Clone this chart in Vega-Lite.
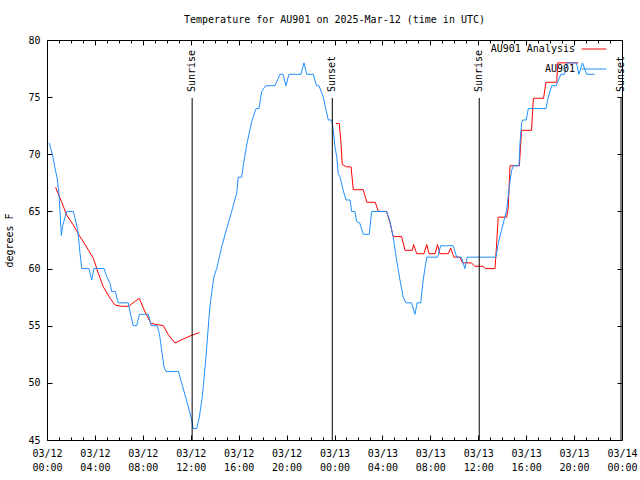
{
  "$schema": "https://vega.github.io/schema/vega-lite/v6.json",
  "width": 575,
  "height": 400,
  "autosize": {"type": "none"},
  "padding": {"left": 47, "top": 40, "right": 18, "bottom": 40},
  "background": "white",
  "title": {"text": "Temperature for AU901 on 2025-Mar-12 (time in UTC)", "font": "DejaVu Sans Mono", "fontSize": 10, "fontWeight": "normal", "offset": 10, "anchor": "middle", "color": "black"},
  "datasets": {
    "obs": [
      {"t": "2025-03-12T00:43:00Z", "v": 67.1, "s": "AU901 Analysis", "g": 1},
      {"t": "2025-03-12T01:13:00Z", "v": 65.85, "s": "AU901 Analysis", "g": 1},
      {"t": "2025-03-12T01:38:00Z", "v": 64.7, "s": "AU901 Analysis", "g": 1},
      {"t": "2025-03-12T02:12:00Z", "v": 63.8, "s": "AU901 Analysis", "g": 1},
      {"t": "2025-03-12T02:45:00Z", "v": 62.8, "s": "AU901 Analysis", "g": 1},
      {"t": "2025-03-12T03:18:00Z", "v": 61.9, "s": "AU901 Analysis", "g": 1},
      {"t": "2025-03-12T03:52:00Z", "v": 60.9, "s": "AU901 Analysis", "g": 1},
      {"t": "2025-03-12T04:17:00Z", "v": 59.6, "s": "AU901 Analysis", "g": 1},
      {"t": "2025-03-12T04:42:00Z", "v": 58.4, "s": "AU901 Analysis", "g": 1},
      {"t": "2025-03-12T05:16:00Z", "v": 57.4, "s": "AU901 Analysis", "g": 1},
      {"t": "2025-03-12T05:41:00Z", "v": 56.8, "s": "AU901 Analysis", "g": 1},
      {"t": "2025-03-12T06:14:00Z", "v": 56.7, "s": "AU901 Analysis", "g": 1},
      {"t": "2025-03-12T06:48:00Z", "v": 56.7, "s": "AU901 Analysis", "g": 1},
      {"t": "2025-03-12T07:42:00Z", "v": 57.4, "s": "AU901 Analysis", "g": 1},
      {"t": "2025-03-12T08:11:00Z", "v": 56.2, "s": "AU901 Analysis", "g": 1},
      {"t": "2025-03-12T08:41:00Z", "v": 55.2, "s": "AU901 Analysis", "g": 1},
      {"t": "2025-03-12T09:12:00Z", "v": 55.1, "s": "AU901 Analysis", "g": 1},
      {"t": "2025-03-12T09:43:00Z", "v": 55.0, "s": "AU901 Analysis", "g": 1},
      {"t": "2025-03-12T10:08:00Z", "v": 54.2, "s": "AU901 Analysis", "g": 1},
      {"t": "2025-03-12T10:41:00Z", "v": 53.5, "s": "AU901 Analysis", "g": 1},
      {"t": "2025-03-12T11:56:00Z", "v": 54.1, "s": "AU901 Analysis", "g": 1},
      {"t": "2025-03-12T12:43:00Z", "v": 54.4, "s": "AU901 Analysis", "g": 1},
      {"t": "2025-03-13T00:07:00Z", "v": 72.7, "s": "AU901 Analysis", "g": 2},
      {"t": "2025-03-13T00:24:00Z", "v": 72.7, "s": "AU901 Analysis", "g": 2},
      {"t": "2025-03-13T00:32:00Z", "v": 71.1, "s": "AU901 Analysis", "g": 2},
      {"t": "2025-03-13T00:39:00Z", "v": 69.1, "s": "AU901 Analysis", "g": 2},
      {"t": "2025-03-13T01:00:00Z", "v": 68.9, "s": "AU901 Analysis", "g": 2},
      {"t": "2025-03-13T01:23:00Z", "v": 68.9, "s": "AU901 Analysis", "g": 2},
      {"t": "2025-03-13T01:34:00Z", "v": 66.9, "s": "AU901 Analysis", "g": 2},
      {"t": "2025-03-13T02:24:00Z", "v": 66.9, "s": "AU901 Analysis", "g": 2},
      {"t": "2025-03-13T02:42:00Z", "v": 65.8, "s": "AU901 Analysis", "g": 2},
      {"t": "2025-03-13T03:24:00Z", "v": 65.8, "s": "AU901 Analysis", "g": 2},
      {"t": "2025-03-13T03:40:00Z", "v": 65.0, "s": "AU901 Analysis", "g": 2},
      {"t": "2025-03-13T04:21:00Z", "v": 65.0, "s": "AU901 Analysis", "g": 2},
      {"t": "2025-03-13T04:38:00Z", "v": 64.0, "s": "AU901 Analysis", "g": 2},
      {"t": "2025-03-13T04:54:00Z", "v": 62.8, "s": "AU901 Analysis", "g": 2},
      {"t": "2025-03-13T05:36:00Z", "v": 62.8, "s": "AU901 Analysis", "g": 2},
      {"t": "2025-03-13T05:53:00Z", "v": 61.6, "s": "AU901 Analysis", "g": 2},
      {"t": "2025-03-13T06:30:00Z", "v": 61.6, "s": "AU901 Analysis", "g": 2},
      {"t": "2025-03-13T06:36:00Z", "v": 62.1, "s": "AU901 Analysis", "g": 2},
      {"t": "2025-03-13T06:52:00Z", "v": 61.3, "s": "AU901 Analysis", "g": 2},
      {"t": "2025-03-13T07:28:00Z", "v": 61.3, "s": "AU901 Analysis", "g": 2},
      {"t": "2025-03-13T07:42:00Z", "v": 62.1, "s": "AU901 Analysis", "g": 2},
      {"t": "2025-03-13T07:54:00Z", "v": 61.3, "s": "AU901 Analysis", "g": 2},
      {"t": "2025-03-13T08:24:00Z", "v": 61.3, "s": "AU901 Analysis", "g": 2},
      {"t": "2025-03-13T08:36:00Z", "v": 62.1, "s": "AU901 Analysis", "g": 2},
      {"t": "2025-03-13T08:48:00Z", "v": 61.3, "s": "AU901 Analysis", "g": 2},
      {"t": "2025-03-13T09:30:00Z", "v": 61.3, "s": "AU901 Analysis", "g": 2},
      {"t": "2025-03-13T09:42:00Z", "v": 61.8, "s": "AU901 Analysis", "g": 2},
      {"t": "2025-03-13T09:58:00Z", "v": 61.0, "s": "AU901 Analysis", "g": 2},
      {"t": "2025-03-13T10:28:00Z", "v": 61.0, "s": "AU901 Analysis", "g": 2},
      {"t": "2025-03-13T10:42:00Z", "v": 60.5, "s": "AU901 Analysis", "g": 2},
      {"t": "2025-03-13T11:26:00Z", "v": 60.5, "s": "AU901 Analysis", "g": 2},
      {"t": "2025-03-13T11:42:00Z", "v": 60.2, "s": "AU901 Analysis", "g": 2},
      {"t": "2025-03-13T12:24:00Z", "v": 60.2, "s": "AU901 Analysis", "g": 2},
      {"t": "2025-03-13T12:36:00Z", "v": 60.0, "s": "AU901 Analysis", "g": 2},
      {"t": "2025-03-13T13:24:00Z", "v": 60.0, "s": "AU901 Analysis", "g": 2},
      {"t": "2025-03-13T13:30:00Z", "v": 61.6, "s": "AU901 Analysis", "g": 2},
      {"t": "2025-03-13T13:40:00Z", "v": 64.5, "s": "AU901 Analysis", "g": 2},
      {"t": "2025-03-13T14:22:00Z", "v": 64.5, "s": "AU901 Analysis", "g": 2},
      {"t": "2025-03-13T14:30:00Z", "v": 65.3, "s": "AU901 Analysis", "g": 2},
      {"t": "2025-03-13T14:39:00Z", "v": 69.0, "s": "AU901 Analysis", "g": 2},
      {"t": "2025-03-13T15:26:00Z", "v": 69.0, "s": "AU901 Analysis", "g": 2},
      {"t": "2025-03-13T15:37:00Z", "v": 72.1, "s": "AU901 Analysis", "g": 2},
      {"t": "2025-03-13T16:27:00Z", "v": 72.1, "s": "AU901 Analysis", "g": 2},
      {"t": "2025-03-13T16:36:00Z", "v": 74.9, "s": "AU901 Analysis", "g": 2},
      {"t": "2025-03-13T17:27:00Z", "v": 74.9, "s": "AU901 Analysis", "g": 2},
      {"t": "2025-03-13T17:39:00Z", "v": 76.3, "s": "AU901 Analysis", "g": 2},
      {"t": "2025-03-13T18:33:00Z", "v": 76.3, "s": "AU901 Analysis", "g": 2},
      {"t": "2025-03-13T18:38:00Z", "v": 78.0, "s": "AU901 Analysis", "g": 2},
      {"t": "2025-03-13T20:21:00Z", "v": 78.0, "s": "AU901 Analysis", "g": 2},
      {"t": "2025-03-12T00:11:00Z", "v": 71.0, "s": "AU901", "g": 3},
      {"t": "2025-03-12T00:27:00Z", "v": 70.0, "s": "AU901", "g": 3},
      {"t": "2025-03-12T00:40:00Z", "v": 68.8, "s": "AU901", "g": 3},
      {"t": "2025-03-12T00:52:00Z", "v": 67.8, "s": "AU901", "g": 3},
      {"t": "2025-03-12T01:00:00Z", "v": 66.5, "s": "AU901", "g": 3},
      {"t": "2025-03-12T01:05:00Z", "v": 65.0, "s": "AU901", "g": 3},
      {"t": "2025-03-12T01:12:00Z", "v": 62.9, "s": "AU901", "g": 3},
      {"t": "2025-03-12T01:18:00Z", "v": 63.7, "s": "AU901", "g": 3},
      {"t": "2025-03-12T01:38:00Z", "v": 65.0, "s": "AU901", "g": 3},
      {"t": "2025-03-12T02:12:00Z", "v": 65.0, "s": "AU901", "g": 3},
      {"t": "2025-03-12T02:34:00Z", "v": 63.4, "s": "AU901", "g": 3},
      {"t": "2025-03-12T02:45:00Z", "v": 61.4, "s": "AU901", "g": 3},
      {"t": "2025-03-12T02:54:00Z", "v": 60.0, "s": "AU901", "g": 3},
      {"t": "2025-03-12T03:30:00Z", "v": 60.0, "s": "AU901", "g": 3},
      {"t": "2025-03-12T03:44:00Z", "v": 59.0, "s": "AU901", "g": 3},
      {"t": "2025-03-12T03:55:00Z", "v": 60.0, "s": "AU901", "g": 3},
      {"t": "2025-03-12T04:46:00Z", "v": 60.0, "s": "AU901", "g": 3},
      {"t": "2025-03-12T04:59:00Z", "v": 59.3, "s": "AU901", "g": 3},
      {"t": "2025-03-12T05:16:00Z", "v": 58.7, "s": "AU901", "g": 3},
      {"t": "2025-03-12T05:24:00Z", "v": 58.0, "s": "AU901", "g": 3},
      {"t": "2025-03-12T05:42:00Z", "v": 58.0, "s": "AU901", "g": 3},
      {"t": "2025-03-12T05:57:00Z", "v": 57.0, "s": "AU901", "g": 3},
      {"t": "2025-03-12T06:47:00Z", "v": 57.0, "s": "AU901", "g": 3},
      {"t": "2025-03-12T06:56:00Z", "v": 56.2, "s": "AU901", "g": 3},
      {"t": "2025-03-12T07:12:00Z", "v": 55.0, "s": "AU901", "g": 3},
      {"t": "2025-03-12T07:29:00Z", "v": 55.0, "s": "AU901", "g": 3},
      {"t": "2025-03-12T07:43:00Z", "v": 56.0, "s": "AU901", "g": 3},
      {"t": "2025-03-12T08:28:00Z", "v": 56.0, "s": "AU901", "g": 3},
      {"t": "2025-03-12T08:41:00Z", "v": 55.0, "s": "AU901", "g": 3},
      {"t": "2025-03-12T09:12:00Z", "v": 55.0, "s": "AU901", "g": 3},
      {"t": "2025-03-12T09:23:00Z", "v": 54.3, "s": "AU901", "g": 3},
      {"t": "2025-03-12T09:34:00Z", "v": 52.9, "s": "AU901", "g": 3},
      {"t": "2025-03-12T09:46:00Z", "v": 51.4, "s": "AU901", "g": 3},
      {"t": "2025-03-12T09:56:00Z", "v": 51.0, "s": "AU901", "g": 3},
      {"t": "2025-03-12T10:58:00Z", "v": 51.0, "s": "AU901", "g": 3},
      {"t": "2025-03-12T11:14:00Z", "v": 50.0, "s": "AU901", "g": 3},
      {"t": "2025-03-12T11:40:00Z", "v": 48.4, "s": "AU901", "g": 3},
      {"t": "2025-03-12T12:05:00Z", "v": 46.75, "s": "AU901", "g": 3},
      {"t": "2025-03-12T12:12:00Z", "v": 46.0, "s": "AU901", "g": 3},
      {"t": "2025-03-12T12:30:00Z", "v": 46.0, "s": "AU901", "g": 3},
      {"t": "2025-03-12T12:42:00Z", "v": 46.9, "s": "AU901", "g": 3},
      {"t": "2025-03-12T12:58:00Z", "v": 48.8, "s": "AU901", "g": 3},
      {"t": "2025-03-12T13:15:00Z", "v": 52.0, "s": "AU901", "g": 3},
      {"t": "2025-03-12T13:36:00Z", "v": 56.7, "s": "AU901", "g": 3},
      {"t": "2025-03-12T13:56:00Z", "v": 59.3, "s": "AU901", "g": 3},
      {"t": "2025-03-12T14:10:00Z", "v": 60.0, "s": "AU901", "g": 3},
      {"t": "2025-03-12T14:35:00Z", "v": 61.9, "s": "AU901", "g": 3},
      {"t": "2025-03-12T15:00:00Z", "v": 63.5, "s": "AU901", "g": 3},
      {"t": "2025-03-12T15:25:00Z", "v": 65.0, "s": "AU901", "g": 3},
      {"t": "2025-03-12T15:50:00Z", "v": 66.6, "s": "AU901", "g": 3},
      {"t": "2025-03-12T15:58:00Z", "v": 68.0, "s": "AU901", "g": 3},
      {"t": "2025-03-12T16:15:00Z", "v": 68.0, "s": "AU901", "g": 3},
      {"t": "2025-03-12T16:23:00Z", "v": 69.0, "s": "AU901", "g": 3},
      {"t": "2025-03-12T16:40:00Z", "v": 70.8, "s": "AU901", "g": 3},
      {"t": "2025-03-12T17:05:00Z", "v": 72.85, "s": "AU901", "g": 3},
      {"t": "2025-03-12T17:27:00Z", "v": 74.0, "s": "AU901", "g": 3},
      {"t": "2025-03-12T17:42:00Z", "v": 74.0, "s": "AU901", "g": 3},
      {"t": "2025-03-12T17:55:00Z", "v": 75.5, "s": "AU901", "g": 3},
      {"t": "2025-03-12T18:15:00Z", "v": 76.0, "s": "AU901", "g": 3},
      {"t": "2025-03-12T19:02:00Z", "v": 76.0, "s": "AU901", "g": 3},
      {"t": "2025-03-12T19:27:00Z", "v": 77.0, "s": "AU901", "g": 3},
      {"t": "2025-03-12T19:42:00Z", "v": 77.0, "s": "AU901", "g": 3},
      {"t": "2025-03-12T19:57:00Z", "v": 76.0, "s": "AU901", "g": 3},
      {"t": "2025-03-12T20:12:00Z", "v": 77.0, "s": "AU901", "g": 3},
      {"t": "2025-03-12T21:12:00Z", "v": 77.0, "s": "AU901", "g": 3},
      {"t": "2025-03-12T21:27:00Z", "v": 78.0, "s": "AU901", "g": 3},
      {"t": "2025-03-12T21:41:00Z", "v": 77.0, "s": "AU901", "g": 3},
      {"t": "2025-03-12T22:14:00Z", "v": 77.0, "s": "AU901", "g": 3},
      {"t": "2025-03-12T22:30:00Z", "v": 76.0, "s": "AU901", "g": 3},
      {"t": "2025-03-12T22:42:00Z", "v": 76.0, "s": "AU901", "g": 3},
      {"t": "2025-03-12T23:04:00Z", "v": 75.0, "s": "AU901", "g": 3},
      {"t": "2025-03-12T23:17:00Z", "v": 73.9, "s": "AU901", "g": 3},
      {"t": "2025-03-12T23:29:00Z", "v": 73.0, "s": "AU901", "g": 3},
      {"t": "2025-03-12T23:46:00Z", "v": 73.0, "s": "AU901", "g": 3},
      {"t": "2025-03-12T23:54:00Z", "v": 72.1, "s": "AU901", "g": 3},
      {"t": "2025-03-13T00:02:00Z", "v": 70.7, "s": "AU901", "g": 3},
      {"t": "2025-03-13T00:11:00Z", "v": 69.8, "s": "AU901", "g": 3},
      {"t": "2025-03-13T00:19:00Z", "v": 68.3, "s": "AU901", "g": 3},
      {"t": "2025-03-13T00:28:00Z", "v": 68.0, "s": "AU901", "g": 3},
      {"t": "2025-03-13T00:44:00Z", "v": 66.8, "s": "AU901", "g": 3},
      {"t": "2025-03-13T00:58:00Z", "v": 66.0, "s": "AU901", "g": 3},
      {"t": "2025-03-13T01:18:00Z", "v": 66.0, "s": "AU901", "g": 3},
      {"t": "2025-03-13T01:26:00Z", "v": 65.0, "s": "AU901", "g": 3},
      {"t": "2025-03-13T01:42:00Z", "v": 65.0, "s": "AU901", "g": 3},
      {"t": "2025-03-13T01:51:00Z", "v": 64.1, "s": "AU901", "g": 3},
      {"t": "2025-03-13T02:06:00Z", "v": 64.0, "s": "AU901", "g": 3},
      {"t": "2025-03-13T02:24:00Z", "v": 63.0, "s": "AU901", "g": 3},
      {"t": "2025-03-13T02:54:00Z", "v": 63.0, "s": "AU901", "g": 3},
      {"t": "2025-03-13T03:06:00Z", "v": 65.0, "s": "AU901", "g": 3},
      {"t": "2025-03-13T04:21:00Z", "v": 65.0, "s": "AU901", "g": 3},
      {"t": "2025-03-13T04:36:00Z", "v": 64.25, "s": "AU901", "g": 3},
      {"t": "2025-03-13T04:54:00Z", "v": 62.8, "s": "AU901", "g": 3},
      {"t": "2025-03-13T05:12:00Z", "v": 60.6, "s": "AU901", "g": 3},
      {"t": "2025-03-13T05:28:00Z", "v": 59.0, "s": "AU901", "g": 3},
      {"t": "2025-03-13T05:44:00Z", "v": 57.5, "s": "AU901", "g": 3},
      {"t": "2025-03-13T05:58:00Z", "v": 57.0, "s": "AU901", "g": 3},
      {"t": "2025-03-13T06:26:00Z", "v": 57.0, "s": "AU901", "g": 3},
      {"t": "2025-03-13T06:43:00Z", "v": 56.0, "s": "AU901", "g": 3},
      {"t": "2025-03-13T06:54:00Z", "v": 57.0, "s": "AU901", "g": 3},
      {"t": "2025-03-13T07:12:00Z", "v": 57.0, "s": "AU901", "g": 3},
      {"t": "2025-03-13T07:24:00Z", "v": 59.0, "s": "AU901", "g": 3},
      {"t": "2025-03-13T07:42:00Z", "v": 61.0, "s": "AU901", "g": 3},
      {"t": "2025-03-13T08:36:00Z", "v": 61.0, "s": "AU901", "g": 3},
      {"t": "2025-03-13T08:52:00Z", "v": 62.0, "s": "AU901", "g": 3},
      {"t": "2025-03-13T09:54:00Z", "v": 62.0, "s": "AU901", "g": 3},
      {"t": "2025-03-13T10:12:00Z", "v": 61.0, "s": "AU901", "g": 3},
      {"t": "2025-03-13T10:36:00Z", "v": 61.0, "s": "AU901", "g": 3},
      {"t": "2025-03-13T10:53:00Z", "v": 60.0, "s": "AU901", "g": 3},
      {"t": "2025-03-13T11:05:00Z", "v": 61.0, "s": "AU901", "g": 3},
      {"t": "2025-03-13T13:29:00Z", "v": 61.0, "s": "AU901", "g": 3},
      {"t": "2025-03-13T13:40:00Z", "v": 62.2, "s": "AU901", "g": 3},
      {"t": "2025-03-13T13:57:00Z", "v": 63.4, "s": "AU901", "g": 3},
      {"t": "2025-03-13T14:22:00Z", "v": 65.1, "s": "AU901", "g": 3},
      {"t": "2025-03-13T14:36:00Z", "v": 67.2, "s": "AU901", "g": 3},
      {"t": "2025-03-13T14:47:00Z", "v": 68.6, "s": "AU901", "g": 3},
      {"t": "2025-03-13T14:57:00Z", "v": 69.0, "s": "AU901", "g": 3},
      {"t": "2025-03-13T15:24:00Z", "v": 69.0, "s": "AU901", "g": 3},
      {"t": "2025-03-13T15:29:00Z", "v": 71.0, "s": "AU901", "g": 3},
      {"t": "2025-03-13T15:37:00Z", "v": 72.7, "s": "AU901", "g": 3},
      {"t": "2025-03-13T15:42:00Z", "v": 73.0, "s": "AU901", "g": 3},
      {"t": "2025-03-13T16:00:00Z", "v": 73.0, "s": "AU901", "g": 3},
      {"t": "2025-03-13T16:11:00Z", "v": 74.0, "s": "AU901", "g": 3},
      {"t": "2025-03-13T17:39:00Z", "v": 74.0, "s": "AU901", "g": 3},
      {"t": "2025-03-13T17:51:00Z", "v": 75.0, "s": "AU901", "g": 3},
      {"t": "2025-03-13T18:08:00Z", "v": 76.0, "s": "AU901", "g": 3},
      {"t": "2025-03-13T18:30:00Z", "v": 76.0, "s": "AU901", "g": 3},
      {"t": "2025-03-13T18:54:00Z", "v": 77.0, "s": "AU901", "g": 3},
      {"t": "2025-03-13T19:12:00Z", "v": 77.0, "s": "AU901", "g": 3},
      {"t": "2025-03-13T19:26:00Z", "v": 78.0, "s": "AU901", "g": 3},
      {"t": "2025-03-13T20:12:00Z", "v": 78.0, "s": "AU901", "g": 3},
      {"t": "2025-03-13T20:24:00Z", "v": 77.0, "s": "AU901", "g": 3},
      {"t": "2025-03-13T20:42:00Z", "v": 78.0, "s": "AU901", "g": 3},
      {"t": "2025-03-13T21:03:00Z", "v": 77.0, "s": "AU901", "g": 3},
      {"t": "2025-03-13T21:42:00Z", "v": 77.0, "s": "AU901", "g": 3}
    ],
    "sun": [
      {"t": "2025-03-12T12:07:00Z", "label": "Sunrise"},
      {"t": "2025-03-12T23:49:00Z", "label": "Sunset"},
      {"t": "2025-03-13T12:05:00Z", "label": "Sunrise"},
      {"t": "2025-03-13T23:55:00Z", "label": "Sunset"}
    ]
  },
  "layer": [
    {
      "data": {"name": "obs"},
      "mark": {"type": "line", "strokeWidth": 1},
      "encoding": {
        "x": {
          "field": "t", "type": "temporal",
          "scale": {"type": "utc", "domain": [{"year": 2025, "month": 3, "date": 12, "hours": 0, "utc": true}, {"year": 2025, "month": 3, "date": 14, "hours": 0, "utc": true}], "nice": false},
          "axis": {
            "orient": "bottom", "title": null, "offset": -5,
            "tickCount": 48,
            "labelExpr": "utchours(datum.value) % 4 == 0 ? [utcFormat(datum.value, '%m/%d'), utcFormat(datum.value, '%H:%M')] : ''",
            "labelOverlap": false, "labelBound": false, "labelFlush": false,
            "labelLineHeight": 14, "labelPadding": 8, "labelBaseline": "top",
            "tickSize": 5,
            "tickDash": {"condition": {"test": "utchours(datum.value) % 4 == 0", "value": [5, 0]}, "value": [0, 2, 3, 0]}
          }
        },
        "y": {
          "field": "v", "type": "quantitative",
          "scale": {"domain": [45, 80], "nice": false, "zero": false},
          "axis": {"orient": "left", "offset": -5, "title": "degrees F", "values": [45, 50, 55, 60, 65, 70, 75, 80], "tickSize": 5, "labelPadding": 7, "titlePadding": 13}
        },
        "color": {
          "field": "s", "type": "nominal",
          "scale": {"domain": ["AU901 Analysis", "AU901"], "range": ["#ff0000", "#1e90ff"]},
          "legend": {
            "orient": "none", "legendX": 534, "legendY": -4, "title": null,
            "symbolType": "stroke", "symbolSize": 625, "symbolStrokeWidth": 1,
            "labelAlign": "right", "labelOffset": -32, "labelFont": "DejaVu Sans Mono", "labelFontSize": 10,
            "labelColor": "black"
          }
        },
        "detail": {"field": "g", "type": "nominal"}
      }
    },
    {
      "data": {"name": "sun"},
      "mark": {"type": "rule", "color": "black", "strokeWidth": 1},
      "encoding": {
        "x": {
          "field": "t", "type": "temporal",
          "axis": {
            "orient": "top", "title": null, "offset": -5, "labels": false,
            "tickCount": 48, "tickSize": 5,
            "tickDash": {"condition": {"test": "utchours(datum.value) % 4 == 0", "value": [5, 0]}, "value": [0, 2, 3, 0]}
          }
        },
        "y": {"datum": 74.93, "type": "quantitative", "axis": {"orient": "right", "offset": -5, "title": null, "labels": false, "values": [45, 50, 55, 60, 65, 70, 75, 80], "tickSize": 5}},
        "y2": {"datum": 45}
      }
    },
    {
      "data": {"name": "sun"},
      "mark": {"type": "text", "angle": 270, "align": "left", "baseline": "middle", "font": "DejaVu Sans Mono", "fontSize": 10, "color": "black"},
      "encoding": {
        "x": {"field": "t", "type": "temporal", "axis": null},
        "y": {"datum": 75.45, "type": "quantitative", "axis": null},
        "text": {"field": "label", "type": "nominal"}
      }
    }
  ],
  "config": {
    "view": {"stroke": "black", "strokeWidth": 1},
    "axis": {
      "grid": false, "domain": false, "tickColor": "black", "labelColor": "black",
      "labelFont": "DejaVu Sans Mono", "labelFontSize": 10,
      "titleFont": "DejaVu Sans Mono", "titleFontSize": 10, "titleFontWeight": "normal", "titleColor": "black"
    }
  }
}
